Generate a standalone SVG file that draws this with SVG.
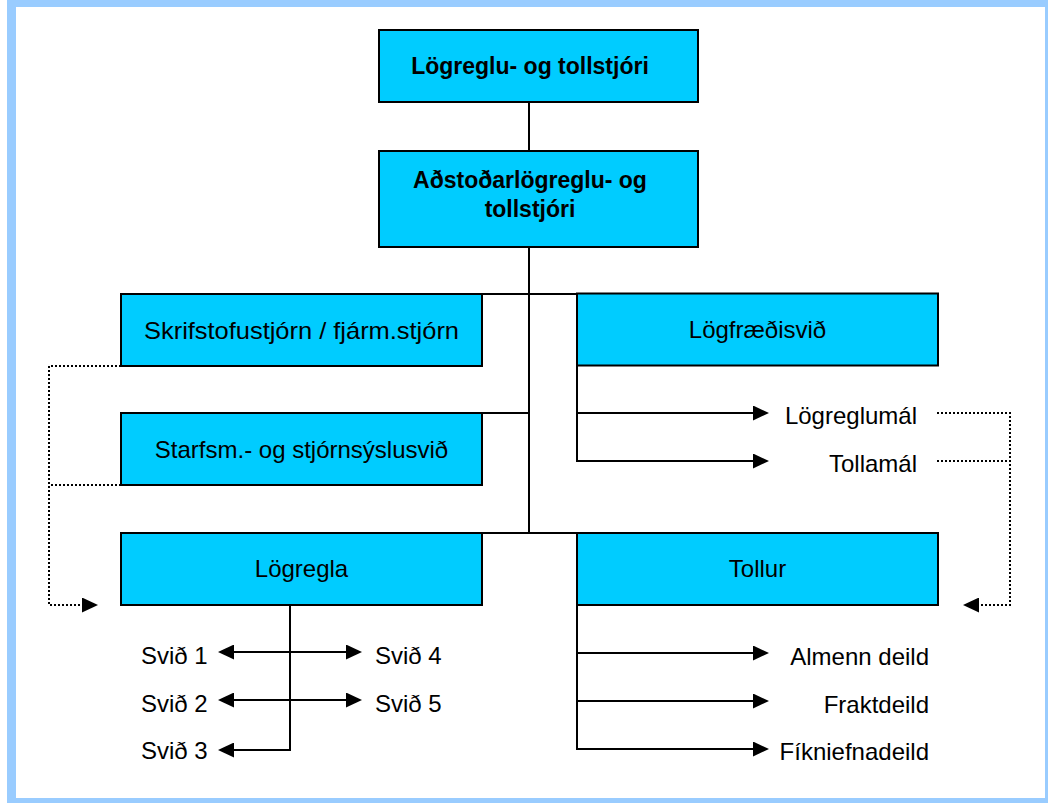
<svg xmlns="http://www.w3.org/2000/svg" width="1048" height="803" viewBox="0 0 1048 803">
<defs>
<style>
.box{fill:#00CCFF;stroke:#000;stroke-width:2}
.t{font-family:"Liberation Sans",Arial,sans-serif;font-size:24px;fill:#000}
.b{font-family:"Liberation Sans",Arial,sans-serif;font-size:23px;font-weight:bold;fill:#000}
.ln{fill:none;stroke:#000;stroke-width:2}
.dot{fill:none;stroke:#000;stroke-width:2;stroke-dasharray:2 2}
</style>
<marker id="ah" markerUnits="userSpaceOnUse" markerWidth="16" markerHeight="15" refX="0" refY="7.5" orient="auto-start-reverse" viewBox="0 0 16 15">
<path d="M0,0 L16,7.5 L0,15 z" fill="#000"/>
</marker>
</defs>
<rect x="0" y="0" width="1048" height="803" fill="#fff"/>
<rect x="7" y="0" width="1041" height="803" fill="#99CCFF"/>
<rect x="16" y="7" width="1029" height="791" fill="#fff"/>

<g id="connectors">
<line class="ln" x1="529" y1="102" x2="529" y2="151"/>
<line class="ln" x1="529" y1="247" x2="529" y2="534"/>
<line class="ln" x1="482" y1="294" x2="577" y2="294"/>
<line class="ln" x1="482" y1="413" x2="529" y2="413"/>
<line class="ln" x1="482" y1="533" x2="577" y2="533"/>
<polyline class="ln" points="577,366 577,461 753,461"/>
<line class="ln" x1="577" y1="413" x2="753" y2="413" marker-end="url(#ah)"/>
<line class="ln" x1="660" y1="461" x2="753" y2="461" marker-end="url(#ah)"/>
<polyline class="dot" points="937,413 1010,413 1010,605 979,605" marker-end="url(#ah)"/>
<line class="dot" x1="937" y1="461" x2="1010" y2="461"/>
<polyline class="dot" points="121,366 49,366 49,605 82,605" marker-end="url(#ah)"/>
<line class="dot" x1="121" y1="485" x2="49" y2="485"/>
<polyline class="ln" points="290,605 290,750 234,750" marker-end="url(#ah)"/>
<line class="ln" x1="234" y1="652" x2="346" y2="652" marker-start="url(#ah)" marker-end="url(#ah)"/>
<line class="ln" x1="234" y1="700" x2="346" y2="700" marker-start="url(#ah)" marker-end="url(#ah)"/>
<polyline class="ln" points="577,606 577,749 753,749" marker-end="url(#ah)"/>
<line class="ln" x1="577" y1="653" x2="753" y2="653" marker-end="url(#ah)"/>
<line class="ln" x1="577" y1="701" x2="753" y2="701" marker-end="url(#ah)"/>
</g>

<g id="logreglu-og-tollstjori">
<rect class="box" x="379" y="30" width="319" height="72"/>
<text class="b" x="530" y="74" text-anchor="middle">Lögreglu- og tollstjóri</text>
</g>
<g id="adstodar">
<rect class="box" x="379" y="151" width="319" height="96"/>
<text class="b" x="530" y="188" text-anchor="middle">Aðstoðarlögreglu- og</text>
<text class="b" x="530" y="217" text-anchor="middle">tollstjóri</text>
</g>
<g id="skrifstofustjorn">
<rect class="box" x="121" y="294" width="361" height="72"/>
<text class="t" x="301.5" y="338.5" text-anchor="middle" textLength="315" lengthAdjust="spacingAndGlyphs">Skrifstofustjórn / fjárm.stjórn</text>
</g>
<g id="starfsm">
<rect class="box" x="121" y="413" width="361" height="72"/>
<text class="t" x="301.5" y="457.5" text-anchor="middle">Starfsm.- og stjórnsýslusvið</text>
</g>
<g id="logfraedisvid">
<rect class="box" x="577" y="293.5" width="361" height="72"/>
<text class="t" x="757.5" y="338" text-anchor="middle">Lögfræðisvið</text>
</g>
<g id="logregla">
<rect class="box" x="121" y="533" width="361" height="72"/>
<text class="t" x="301.5" y="577" text-anchor="middle">Lögregla</text>
</g>
<g id="tollur">
<rect class="box" x="577" y="533" width="361" height="72"/>
<text class="t" x="757.5" y="577" text-anchor="middle">Tollur</text>
</g>
<g id="logreglumal"><text class="t" x="917" y="424" text-anchor="end">Lögreglumál</text></g>
<g id="tollamal"><text class="t" x="917" y="472" text-anchor="end">Tollamál</text></g>
<g id="svid1"><text class="t" x="141" y="664">Svið 1</text></g>
<g id="svid2"><text class="t" x="141" y="712">Svið 2</text></g>
<g id="svid3"><text class="t" x="141" y="759">Svið 3</text></g>
<g id="svid4"><text class="t" x="375" y="664">Svið 4</text></g>
<g id="svid5"><text class="t" x="375" y="712">Svið 5</text></g>
<g id="almenn"><text class="t" x="929" y="665" text-anchor="end">Almenn deild</text></g>
<g id="fraktdeild"><text class="t" x="929" y="713" text-anchor="end">Fraktdeild</text></g>
<g id="fikniefnadeild"><text class="t" x="929" y="760" text-anchor="end">Fíkniefnadeild</text></g>
</svg>
